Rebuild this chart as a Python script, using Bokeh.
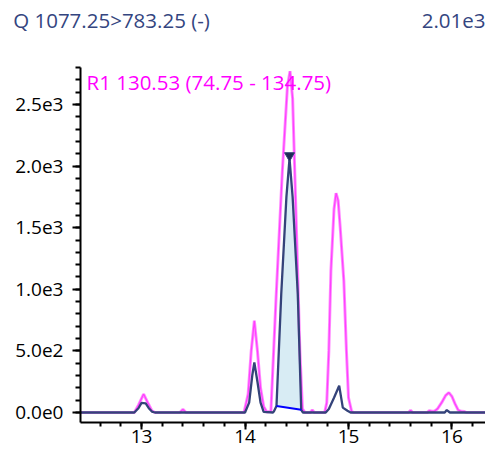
import numpy as np
from bokeh.plotting import figure
from bokeh.models import Range1d, FixedTicker, Label, LinearAxis
from bokeh.embed import file_html
from bokeh.resources import INLINE

# ---- data -------------------------------------------------------------
title_text = "Q 1077.25>783.25 (-)"
max_text = "2.01e3"
peak_text = "R1 130.53 (74.75 - 134.75)"
header_pos = [12.71, 16.03]          # x (minutes) at which the two header texts are centred

# magenta trace (time, intensity)
mag_t = [12.40, 12.93, 12.97, 13.02, 13.06, 13.10, 13.13, 13.37, 13.40, 13.43,
         13.99, 14.03, 14.06, 14.09, 14.12, 14.15, 14.18, 14.21, 14.25, 14.30,
         14.36, 14.41, 14.435, 14.46, 14.50, 14.53, 14.555, 14.58, 14.63, 14.65,
         14.67, 14.77, 14.79, 14.81, 14.83, 14.86, 14.88, 14.90, 14.92, 14.955,
         14.98, 15.00, 15.03, 15.05, 15.58, 15.60, 15.62, 15.76, 15.78, 15.80,
         15.83, 15.86, 15.90, 15.94, 15.97, 16.00, 16.03, 16.06, 16.09, 16.12,
         16.14, 16.40]
mag_y = [0, 0, 60, 150, 80, 15, 0, 0, 25, 0,
         0, 150, 500, 745, 500, 200, 50, 5, 10, 930,
         1950, 2650, 2770, 2550, 1400, 500, 30, 0, 0, 20,
         0, 0, 80, 500, 1150, 1650, 1780, 1720, 1500, 1069,
         500, 120, 10, 0, 0, 18, 0, 0, 15, 12,
         10, 30, 80, 140, 162, 130, 70, 20, 10, 8,
         0, 0]

# dark (quantifier) trace
drk_t = [12.40, 12.93, 12.97, 13.00, 13.04, 13.07, 13.10, 13.13, 14.00, 14.04,
         14.07, 14.09, 14.12, 14.15, 14.18, 14.27, 14.28, 14.304, 14.35, 14.40,
         14.43, 14.46, 14.51, 14.543, 14.56, 14.78, 14.81, 14.86, 14.91, 14.945,
         14.99, 15.02, 15.93, 15.95, 15.98, 16.40]
drk_y = [0, 0, 35, 78, 75, 35, 8, 0, 0, 80,
         300, 406, 250, 80, 5, 0, 10, 52, 960, 1750,
         2060, 1750, 960, 22, 0, 0, 28, 120, 217, 40,
         14, 0, 0, 20, 0, 0]

# integrated peak
peak_start, peak_end = 14.304, 14.543
base_start, base_end = 52, 22
apex_t, apex_y = 14.43, 2085

x_ticks = [13, 14, 15, 16]
y_ticks = [0, 500, 1000, 1500, 2000, 2500]
y_tick_labels = ["0.0e0", "5.0e2", "1.0e3", "1.5e3", "2.0e3", "2.5e3"]

# ---- figure -----------------------------------------------------------
FONT = "Open Sans"
DARK = "#34437a"
MAG = "#ff00ff"
HEAD = "#34457f"

p = figure(width=485, height=453, output_backend="svg", toolbar_location=None,
           x_range=Range1d(12.41, 16.324), y_range=Range1d(-81, 2800),
           min_border_left=80, min_border_top=67, min_border_right=0,
           min_border_bottom=31)
p.outline_line_color = None
p.xgrid.visible = False
p.ygrid.visible = False
p.background_fill_color = "white"
p.border_fill_color = "white"

# fill under main peak
xf = [peak_start] + [t for t in drk_t if peak_start < t < peak_end] + [peak_end]
xf = np.array(xf)
y_top = np.interp(xf, drk_t, drk_y)
y_bot = np.interp(xf, [peak_start, peak_end], [base_start, base_end])
p.varea(x=xf, y1=y_bot, y2=y_top, fill_color="#d8ecf4")

p.line(mag_t, mag_y, line_color="#ff66ff", line_width=3, line_alpha=0.75)
p.line(mag_t, mag_y, line_color=MAG, line_width=1.2, line_alpha=0.55)
p.line(drk_t, drk_y, line_color=DARK, line_width=2.3)
p.line([peak_start, peak_end], [base_start, base_end], line_color="#0000ff", line_width=2)
p.scatter([apex_t], [apex_y], marker="inverted_triangle", size=10,
          fill_color="#1f2a55", line_color=DARK)

# axes
for ax in (p.xaxis[0], p.yaxis[0]):
    ax.axis_line_width = 2
    ax.axis_line_color = "black"
    ax.major_tick_line_width = 2
    ax.minor_tick_line_width = 2
    ax.major_tick_line_color = "black"
    ax.minor_tick_line_color = "black"
    ax.major_tick_in = 0
    ax.minor_tick_in = 0
    ax.major_label_text_font = FONT
    ax.major_label_text_font_size = "19px"
    ax.major_label_text_color = "black"

p.xaxis.ticker = FixedTicker(ticks=x_ticks,
                             minor_ticks=list(np.round(np.arange(12.4, 16.4, 0.2), 2)))
p.xaxis.major_tick_out = 7
p.xaxis.minor_tick_out = 4
p.xaxis.major_label_standoff = 0

p.yaxis.ticker = FixedTicker(ticks=y_ticks, minor_ticks=list(range(0, 2801, 100)))
p.yaxis.major_label_overrides = {t: s for t, s in zip(y_ticks, y_tick_labels)}
p.yaxis.major_tick_out = 8
p.yaxis.minor_tick_out = 5
p.yaxis.major_label_standoff = 9

# header texts carried by an invisible axis above the plot
head = LinearAxis(ticker=FixedTicker(ticks=header_pos, minor_ticks=[]),
                  major_label_overrides={header_pos[0]: title_text, header_pos[1]: max_text},
                  axis_line_color=None, major_tick_line_color=None,
                  minor_tick_line_color=None, major_tick_out=0, major_tick_in=0,
                  major_label_standoff=34, major_label_text_font=FONT,
                  major_label_text_font_size="20.5px", major_label_text_color=HEAD)
p.add_layout(head, "above")

# peak annotation
p.add_layout(Label(x=86, y=81, x_units="canvas", y_units="canvas",
                   text=peak_text, text_font=FONT,
                   text_font_size="20.5px", text_color=MAG,
                   text_baseline="middle", text_align="left"))

open("out.html", "w").write(file_html(p, INLINE))
